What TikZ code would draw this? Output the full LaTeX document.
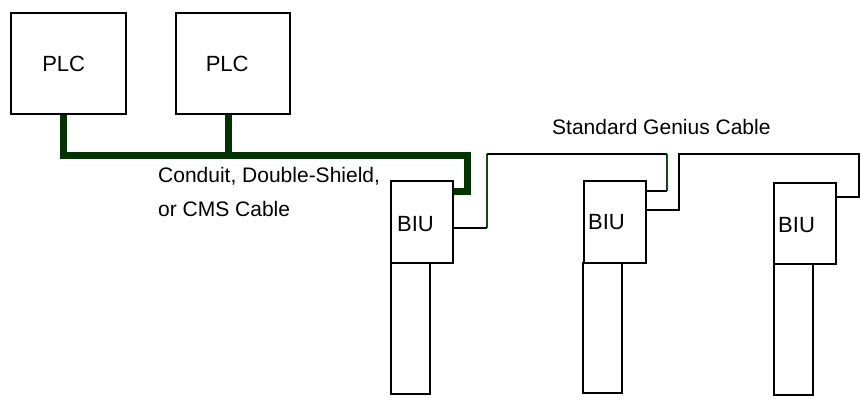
\documentclass[tikz,border=0pt]{standalone}
\usepackage{fontspec}
\setmainfont{Liberation Sans}
\usetikzlibrary{calc}
\definecolor{busgreen}{RGB}{0,51,0}
\definecolor{wiregreen}{RGB}{20,70,20}
\begin{document}
\begin{tikzpicture}[x=1pt,y=-1pt,
  box/.style={draw=black,line width=2.3pt,fill=white,inner sep=0pt,anchor=north west},
  boxtext/.style={inner sep=0pt,font=\fontsize{22}{26}\selectfont},
  lab/.style={inner sep=0pt,anchor=base west,font=\fontsize{21}{25}\selectfont},
  bus/.style={draw=busgreen,line width=7pt,line join=miter,line cap=butt},
  wire/.style={draw=black,line width=1.5pt},
  gwire/.style={draw=wiregreen,line width=1.5pt}]
\useasboundingbox (0,0) rectangle (861,401);
% PLC boxes
\node[box,minimum width=115pt,minimum height=101pt] (plc1) at (10,12) {};
\node[boxtext] (plc1t) at ($(plc1.center)+(-5,0)$) {PLC};
\node[box,minimum width=114pt,minimum height=101pt] (plc2) at (175,12) {};
\node[boxtext] (plc2t) at ($(plc2.center)+(-6,0)$) {PLC};
% BIU units
\node[box,minimum width=62pt,minimum height=82pt] (biu1) at (390,180) {};
\node[box,minimum width=39pt,minimum height=131pt] (low1) at (390,262) {};
\node[boxtext,anchor=west] (biu1t) at ($(biu1.west)+(7,2)$) {BIU};
\node[box,minimum width=62pt,minimum height=82pt] (biu2) at (583,180) {};
\node[box,minimum width=39pt,minimum height=130pt] (low2) at (582,262) {};
\node[boxtext,anchor=west] (biu2t) at ($(biu2.west)+(5,0)$) {BIU};
\node[box,minimum width=62pt,minimum height=81pt] (biu3) at (773,182) {};
\node[box,minimum width=39pt,minimum height=131pt] (low3) at (773,263) {};
\node[boxtext,anchor=west] (biu3t) at ($(biu3.west)+(5,1)$) {BIU};
% coordinates for the bus
\coordinate (b1) at (63.5,155);
\coordinate (b2) at (228,155);
\coordinate (bc) at (467,155);
% thick bus
\draw[bus] (plc1.south -| b1) -- (b1) -- (bc) |- ($(biu1.north east)+(0,11)$);
\draw[bus] (plc2.south -| b2) -- (b2);
% thin Genius cable
\coordinate (u1) at (487,228);
\coordinate (t1) at (487,154);
\coordinate (t2) at (667,154);
\coordinate (d2) at (667,191);
\draw[wire] (biu1.east |- u1) -- (u1);
\draw[gwire] (u1) -- (t1);
\draw[wire] (t1) -- (t2);
\draw[gwire] (t2) -- (d2);
\draw[wire] (d2) -- (biu2.east |- d2);
\coordinate (u2) at (679,210);
\coordinate (t3) at (679,154);
\coordinate (t4) at (859,154);
\coordinate (d4) at (859,197);
\draw[wire,line join=miter] (biu2.east |- u2) -- (u2) -- (t3) -- (t4) -- (d4) -- (biu3.east |- d4);
% labels
\node[lab] (l1) at (158,182) {Conduit, Double-Shield,};
\node[lab] (l2) at (158,216) {or CMS Cable};
\node[lab] (l3) at (552,134) {Standard Genius Cable};
\end{tikzpicture}
\end{document}
